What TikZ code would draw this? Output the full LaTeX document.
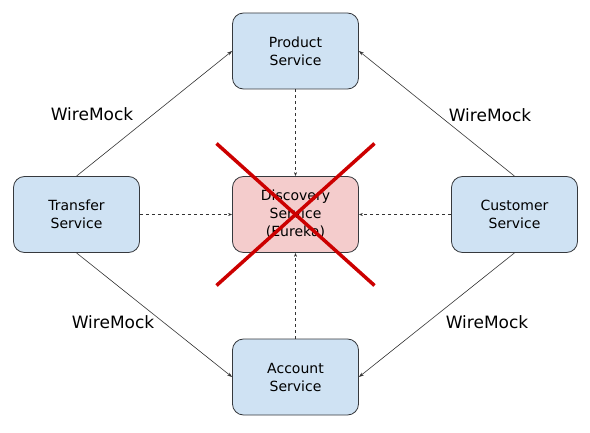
\documentclass[tikz,border=0pt]{standalone}
\usepackage{fontspec}
\setmainfont{DejaVu Sans}
\usetikzlibrary{arrows.meta}
\definecolor{boxblue}{HTML}{CFE2F3}
\definecolor{boxpink}{HTML}{F4CCCC}
\definecolor{boxline}{HTML}{36393D}
\definecolor{crossred}{HTML}{CC0000}
\begin{document}
\begin{tikzpicture}[x=1pt,y=1pt,
        service/.style={draw=boxline,fill=boxblue,rounded corners=11pt,line width=0.8pt,
            minimum width=126pt,minimum height=76pt,align=center,
            font=\fontsize{14}{18}\selectfont},
        mock/.style={-{Stealth[length=5pt,width=3.5pt]},line width=0.6pt,draw=black!80},
        lookup/.style={-{Stealth[length=4pt,width=3pt]},line width=0.6pt,dashed,
            dash pattern=on 3pt off 3pt,draw=black!80},
        wm/.style={font=\fontsize{17}{20}\selectfont}]
    \useasboundingbox (0,0) rectangle (590,432) ;
    \node[service] (product) at (295.5,381) {Product\\Service} ;
    \node[service] (transfer) at (76.5,217.5) {Transfer\\Service} ;
    \node[service,fill=boxpink] (discovery) at (295.5,217.5) {Discovery\\Service\\(Eureka)} ;
    \node[service] (customer) at (514.5,217.5) {Customer\\Service} ;
    \node[service] (account) at (295.5,55) {Account\\Service} ;
    \draw[mock] (transfer.north) -- (product.west) ;
    \draw[mock] (customer.north) -- (product.east) ;
    \draw[mock] (transfer.south) -- (account.west) ;
    \draw[mock] (customer.south) -- (account.east) ;
    \draw[lookup] (product.south) -- (discovery.north) ;
    \draw[lookup] (account.north) -- (discovery.south) ;
    \draw[lookup] (transfer.east) -- (discovery.west) ;
    \draw[lookup] (customer.west) -- (discovery.east) ;
    \node[wm] (wmtl) at (92,318) {WireMock} ;
    \node[wm] (wmtr) at (490,317) {WireMock} ;
    \node[wm] (wmbl) at (113,110) {WireMock} ;
    \node[wm] (wmbr) at (487,110) {WireMock} ;
    % discovery is gone
    \draw[crossred,line width=3.5pt] (216.5,288.5) -- (374.5,146.5) ;
    \draw[crossred,line width=3.5pt] (374.5,288.5) -- (216.5,146.5) ;
\end{tikzpicture}
\end{document}
